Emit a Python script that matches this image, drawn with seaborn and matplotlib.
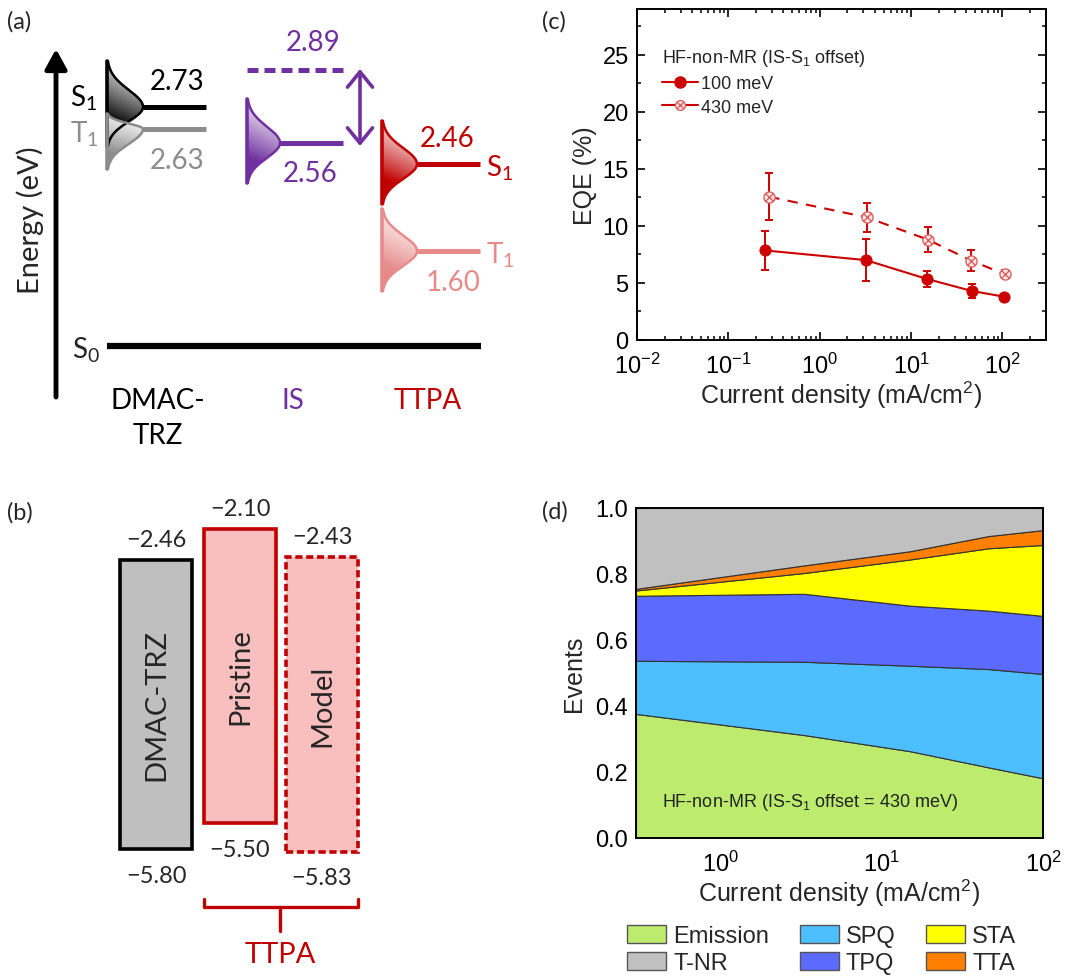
import matplotlib
matplotlib.use("Agg")
import matplotlib.colors as mcolors
import matplotlib.pyplot as plt
import numpy as np
import pandas as pd
import seaborn as sns
from matplotlib.lines import Line2D
from matplotlib.patches import Patch, Polygon, Rectangle
from matplotlib.path import Path
from matplotlib.ticker import FormatStrFormatter, LogLocator, MultipleLocator, NullFormatter

RED = "#C00000"
LIGHT_RED = "#E68A8A"
PURPLE = "#7030A0"
GREY = "#8C8C8C"
PLOT_RED = "#CC0000"
SCHEME_FONT = ["Lato", "DejaVu Sans"]

# (a) energy levels in eV, drawn schematically (not to scale)
level_names = ["S1", "T1", "IS*", "IS", "S1", "T1"]
level_values = [2.73, 2.63, 2.89, 2.56, 2.46, 1.60]
level_colors = ["black", GREY, PURPLE, PURPLE, RED, LIGHT_RED]
molecules = ["DMAC-\nTRZ", "IS", "TTPA"]
molecule_colors = ["black", PURPLE, RED]

# (b) frontier orbital energies in eV
b_names = ["DMAC-TRZ", "Pristine", "Model"]
b_lumo = [-2.46, -2.10, -2.43]
b_homo = [-5.80, -5.50, -5.83]

# (c) EQE roll-off
j_100 = [0.25, 3.2, 14.9, 46.0, 103.0]
eqe_100 = [7.85, 7.0, 5.35, 4.3, 3.8]
err_100 = [1.7, 1.85, 0.7, 0.65, 0.15]
j_430 = [0.28, 3.26, 15.2, 45.6, 107.0]
eqe_430 = [12.55, 10.75, 8.8, 6.95, 5.75]
err_430 = [2.05, 1.25, 1.1, 0.92, 0.35]

# (d) event fractions, HF-non-MR (430 meV)
j_events = [0.3, 3.3, 15.0, 46.0, 100.0]
emission = [0.376, 0.312, 0.263, 0.214, 0.181]
spq = [0.161, 0.222, 0.259, 0.298, 0.316]
tpq = [0.197, 0.206, 0.182, 0.177, 0.176]
sta = [0.016, 0.063, 0.140, 0.189, 0.215]
tta = [0.005, 0.023, 0.025, 0.037, 0.045]
tnr = [0.245, 0.174, 0.131, 0.085, 0.067]
event_labels = ["Emission", "SPQ", "TPQ", "STA", "TTA", "T-NR"]
event_colors = ["#BDEB6E", "#4DBFFF", "#5B6BFF", "#FFFF00", "#FF8000", "#C0C0C0"]

W, H = 1066, 979


def draw_peak(ax, x0, xpeak, ytop, yc, ybot, color, zorder):
    ys = np.linspace(ytop, ybot, 200)
    sig = np.where(ys < yc, (yc - ytop) / 2.7, (ybot - yc) / 2.7)
    xs = x0 + (xpeak - x0) * np.exp(-0.5 * ((ys - yc) / sig) ** 2)
    verts = [(x0, ytop)] + list(zip(xs, ys)) + [(x0, ybot)]
    poly = Polygon(verts, closed=True, facecolor="none", edgecolor="none", zorder=zorder)
    ax.add_patch(poly)
    rgb = np.array(mcolors.to_rgb(color))
    ty = np.linspace(0, 1, 120)[:, None]
    tx = np.linspace(0, 1, 60)[None, :]
    mix = np.clip(1.25 * ty ** 1.2 + 0.25 * (1 - tx) - 0.05, 0, 1)
    img = (1 - mix)[..., None] + mix[..., None] * rgb
    im = ax.imshow(img, extent=[x0, xpeak, ybot, ytop], origin="upper",
                   aspect="auto", zorder=zorder, interpolation="bilinear")
    im.set_clip_path(poly)
    ax.plot(xs, ys, color=color, lw=1.8, zorder=zorder + 0.1)
    ax.plot([x0, x0], [ytop, ybot], color=color, lw=2.6, zorder=zorder + 0.1,
            solid_capstyle="round")


def draw_panel_a(fig):
    ax = fig.add_axes([0, 1 - 490 / H, 540 / W, 490 / H])
    ax.axis("off")

    # energy axis
    ax.annotate("", xy=(56, 50), xytext=(56, 398),
                arrowprops=dict(arrowstyle="-|>,head_length=1.0,head_width=0.55",
                                mutation_scale=12, lw=3.5, color="black",
                                shrinkA=0, shrinkB=0))
    ax.text(30, 220, "Energy (eV)", rotation=90, ha="center", va="center",
            fontsize=21, family=SCHEME_FONT)

    # ground state
    ax.plot([107, 481], [347, 347], color="black", lw=4.5, solid_capstyle="butt")
    ax.text(86, 350, r"$\mathregular{S_0}$", ha="center", va="center",
            fontsize=20, family=SCHEME_FONT)

    # schematic rows (pixel rows) and peak geometry for each level
    rows = [108, 130, 71, 144, 165, 252]
    spans = [(143, 206), (143, 206), (247, 345), (280, 343), (417, 480), (417, 480)]
    peaks = {1: (107, 143, 115, 170, 9.0), 0: (107, 143, 62, 147, 9.5),
             3: (247, 280, 100, 184, 9.0), 4: (382, 417, 122, 205, 9.0),
             5: (382, 417, 210, 292, 9.0)}
    for i in [1, 0, 3, 4, 5]:
        x0, xp, yt, yb, z = peaks[i]
        draw_peak(ax, x0, xp, yt, rows[i], yb, level_colors[i], z if i != 1 else 9.6)
    for i, (row, (xa, xb)) in enumerate(zip(rows, spans)):
        ls = (0, (2.2, 1.2)) if level_names[i] == "IS*" else "-"
        ax.plot([xa, xb], [row, row], color=level_colors[i], lw=3.6, ls=ls,
                solid_capstyle="butt", zorder=10)

    # energy values
    value_pos = [(177, 82), (177, 161), (313, 43), (310, 174), (447, 139), (453, 283)]
    for (tx, ty), v, c in zip(value_pos, level_values, level_colors):
        ax.text(tx, ty, f"{v:.2f}", color=c, ha="center", va="center",
                fontsize=20, family=SCHEME_FONT)

    ax.text(84, 98, r"$\mathregular{S_1}$", ha="center", va="center", fontsize=20,
            family=SCHEME_FONT, color="black")
    ax.text(84, 134, r"$\mathregular{T_1}$", ha="center", va="center", fontsize=20,
            family=SCHEME_FONT, color=GREY)
    ax.text(486, 168, r"$\mathregular{S_1}$", ha="left", va="center", fontsize=20,
            family=SCHEME_FONT, color=RED)
    ax.text(486, 255, r"$\mathregular{T_1}$", ha="left", va="center", fontsize=20,
            family=SCHEME_FONT, color=LIGHT_RED)

    # IS-S1 offset arrow
    ax.annotate("", xy=(360, 70), xytext=(360, 147),
                arrowprops=dict(arrowstyle="<->,head_length=0.55,head_width=0.45",
                                mutation_scale=20, lw=2.6, color=PURPLE,
                                shrinkA=0, shrinkB=0))

    for name, c, x in zip(molecules, molecule_colors, [158, 293, 428]):
        ax.text(x, 388, name, color=c, ha="center", va="top", fontsize=20,
                family=SCHEME_FONT, linespacing=1.45)

    ax.set_xlim(0, 540)
    ax.set_ylim(490, 0)


def draw_panel_b(fig):
    ax = fig.add_axes([0, 0, 540 / W, 489 / H])
    ax.axis("off")
    lefts = [120, 204, 286]
    width = 72
    faces = ["#BFBFBF", "#F9BEBE", "#F9BEBE"]
    edges = ["black", RED, RED]
    styles = ["-", "-", (0, (2.0, 1.0))]
    for x, name, lumo, homo, fc, ec, ls in zip(lefts, b_names, b_lumo, b_homo, faces, edges, styles):
        ax.add_patch(Rectangle((x, homo), width, lumo - homo, facecolor=fc,
                               edgecolor=ec, lw=2.6, ls=ls))
        ax.text(x + width / 2, (lumo + homo) / 2, name, rotation=90, ha="center",
                va="center", fontsize=21, family=SCHEME_FONT)
        ax.annotate(f"\u2212{abs(lumo):.2f}", (x + width / 2, lumo), xytext=(0, 15),
                    textcoords="offset points", ha="center", va="center",
                    fontsize=17, family=SCHEME_FONT)
        ax.annotate(f"\u2212{abs(homo):.2f}", (x + width / 2, homo), xytext=(0, -19),
                    textcoords="offset points", ha="center", va="center",
                    fontsize=17, family=SCHEME_FONT)

    # TTPA bracket
    y0, y1, y2 = -6.38, -6.47, -6.75
    ax.plot([204, 204, 358, 358], [y0, y1, y1, y0], color=RED, lw=2.4,
            solid_joinstyle="round")
    ax.plot([280, 280], [y1, y2], color=RED, lw=2.4)
    ax.text(280, -7.02, "TTPA", color=RED, ha="center", va="center", fontsize=21,
            family=SCHEME_FONT)

    ax.set_xlim(0, 540)
    ax.set_ylim(-7.292, -1.639)


def style_axis(ax):
    for s in ax.spines.values():
        s.set_color("black")
        s.set_linewidth(1.4)
    ax.tick_params(which="both", direction="in", top=True, right=True,
                   colors="black", labelsize=17)
    ax.tick_params(axis="x", pad=9)
    ax.tick_params(axis="y", pad=6)
    ax.tick_params(which="major", length=5.5, width=1.2)
    ax.tick_params(which="minor", length=3, width=1.1)


def cross_circle_marker():
    circle = Path.unit_circle()
    d = 0.7071
    verts = list(circle.vertices) + [(-d, -d), (d, d), (-d, d), (d, -d)]
    codes = list(circle.codes) + [Path.MOVETO, Path.LINETO, Path.MOVETO, Path.LINETO]
    return Path(verts, codes)


def draw_panel_c(fig):
    ax = fig.add_axes([637 / W, 1 - 341 / H, 409 / W, 331 / H])
    marker = cross_circle_marker()
    df100 = pd.DataFrame({"j": j_100, "eqe": eqe_100})
    df430 = pd.DataFrame({"j": j_430, "eqe": eqe_430})

    ax.errorbar(j_100, eqe_100, yerr=err_100, fmt="none", ecolor=PLOT_RED,
                elinewidth=1.4, capsize=3, capthick=1.4, zorder=3)
    ax.errorbar(j_430, eqe_430, yerr=err_430, fmt="none", ecolor=PLOT_RED,
                elinewidth=1.4, capsize=3, capthick=1.4, zorder=3)
    sns.lineplot(data=df100, x="j", y="eqe", ax=ax, color=PLOT_RED, lw=1.5,
                 marker="o", markersize=8, markeredgecolor=PLOT_RED, zorder=4,
                 legend=False)
    sns.lineplot(data=df430, x="j", y="eqe", ax=ax, color=PLOT_RED, lw=1.5,
                 linestyle=(0, (5, 4)), marker=marker, markersize=8,
                 markerfacecolor="#FCE8E8", markeredgecolor="#E06060",
                 markeredgewidth=1.0, zorder=4, legend=False)

    ax.set_xscale("log")
    ax.set_xlim(0.01, 300)
    ax.set_ylim(0, 29)
    ax.xaxis.set_major_locator(LogLocator(base=10, numticks=10))
    ax.xaxis.set_minor_locator(LogLocator(base=10, subs=np.arange(2, 10), numticks=10))
    ax.xaxis.set_minor_formatter(NullFormatter())
    ax.yaxis.set_major_locator(MultipleLocator(5))
    ax.yaxis.set_minor_locator(MultipleLocator(2.5))
    style_axis(ax)
    ax.set_xlabel(r"Current density (mA/cm$\mathregular{^2}$)", fontsize=18, labelpad=1)
    ax.set_ylabel("EQE (%)", fontsize=18, labelpad=4)

    handles = [
        Line2D([], [], color=PLOT_RED, lw=1.5, marker="o", markersize=8),
        Line2D([], [], color=PLOT_RED, lw=1.5, marker=marker, markersize=7,
               markerfacecolor="#FCE8E8", markeredgecolor="#E06060", markeredgewidth=1.0),
    ]
    leg = ax.legend(handles, ["100 meV", "430 meV"],
                    title=r"HF-non-MR (IS-S$\mathregular{_1}$ offset)", title_fontsize=13,
                    fontsize=13, loc="upper left", bbox_to_anchor=(0.06, 0.885),
                    frameon=False, alignment="left", handlelength=2.0,
                    handletextpad=0.2, labelspacing=0.38, borderpad=0, borderaxespad=0)
    leg.get_title().set_color("#222222")


def draw_panel_d(fig):
    ax = fig.add_axes([636 / W, 1 - 839 / H, 407 / W, 330 / H])
    layers = [emission, spq, tpq, sta, tta, tnr]
    ax.stackplot(j_events, *layers, colors=event_colors, edgecolor="#333333",
                 linewidth=0.8)
    ax.set_xscale("log")
    ax.set_xlim(0.3, 100)
    ax.set_ylim(0, 1.0)
    ax.xaxis.set_major_locator(LogLocator(base=10, numticks=10))
    ax.xaxis.set_minor_locator(LogLocator(base=10, subs=np.arange(2, 10), numticks=10))
    ax.xaxis.set_minor_formatter(NullFormatter())
    ax.yaxis.set_major_locator(MultipleLocator(0.2))
    ax.yaxis.set_minor_locator(MultipleLocator(0.1))
    ax.yaxis.set_major_formatter(FormatStrFormatter("%.1f"))
    style_axis(ax)
    ax.set_xlabel(r"Current density (mA/cm$\mathregular{^2}$)", fontsize=18, labelpad=1)
    ax.set_ylabel("Events", fontsize=18, labelpad=6)
    ax.text(0.064, 0.112, r"HF-non-MR (IS-S$\mathregular{_1}$ offset = 430 meV)",
            transform=ax.transAxes, fontsize=13, ha="left", va="center", color="#222222")

    patches = {lab: Patch(facecolor=c, edgecolor="#555555", lw=1.0)
               for lab, c in zip(event_labels, event_colors)}
    order = ["Emission", "T-NR", "SPQ", "TPQ", "STA", "TTA"]
    fig.legend([patches[k] for k in order], order, ncol=3, loc="upper left",
               bbox_to_anchor=(627 / W, 1 - 926 / H), frameon=False, fontsize=17,
               handlelength=1.65, handleheight=0.8, handletextpad=0.3,
               columnspacing=1.3, labelspacing=0.2, borderpad=0, borderaxespad=0)


def main():
    sns.set_theme(style="ticks")
    plt.rcParams["font.family"] = ["Liberation Sans", "DejaVu Sans"]
    plt.rcParams["axes.unicode_minus"] = True

    fig = plt.figure(figsize=(W / 100, H / 100), dpi=100)
    fig.patch.set_facecolor("white")

    draw_panel_a(fig)
    draw_panel_b(fig)
    draw_panel_c(fig)
    draw_panel_d(fig)

    for lab, (px, py) in zip(["(a)", "(b)", "(c)", "(d)"],
                             [(7, 22), (7, 513), (542, 22), (542, 512)]):
        fig.text(px / W, 1 - py / H, lab, ha="left", va="center", fontsize=17,
                 family=SCHEME_FONT)

    fig.savefig("out.png", dpi=100)
    plt.close(fig)


if __name__ == "__main__":
    main()
